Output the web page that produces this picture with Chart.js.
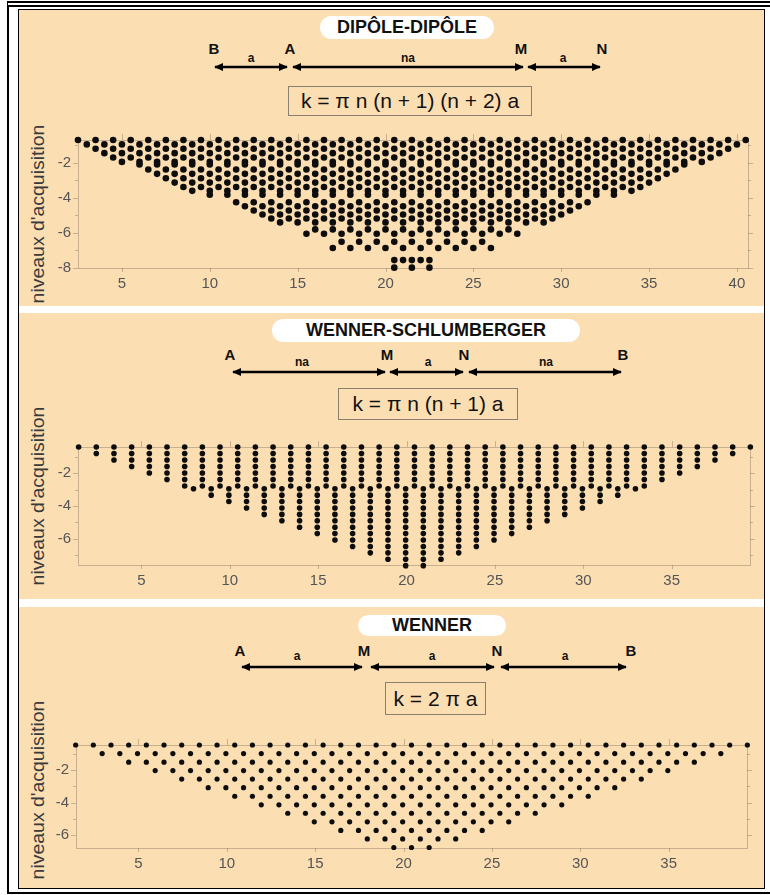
<!DOCTYPE html>
<html>
<head>
<meta charset="utf-8">
<title>Pseudo-sections</title>
<script src="https://cdn.jsdelivr.net/npm/chart.js@4.4.1/dist/chart.umd.min.js"></script>
<style>
  * { box-sizing: border-box; }
  body { margin: 0; width: 770px; height: 895px; position: relative; overflow: hidden; background: #fff;
         font-family: "Liberation Sans", Arial, sans-serif; color: #111; }
  .abs { position: absolute; }
  #outer { left: 7px; top: 1px; width: 800px; height: 893px; border-top: 6px double #000; border-left: 2px solid #000; border-bottom: 2px solid #000; }
  #inner { left: 18px; top: 9px; width: 747px; height: 880px; border: 1px solid #000; background: #fff; }
  .panel { left: 19px; width: 745px; background: #fcdeb3; }
  .pill { background: #fff; border-radius: 12px; text-align: center; font-weight: bold; font-size: 18px; color: #111; }
  .lbl { font-weight: bold; font-size: 15px; transform: translate(-50%, -50%); white-space: nowrap; }
  .sub { font-weight: bold; font-size: 12px; transform: translate(-50%, -50%); white-space: nowrap; }
  .formula { border: 1px solid #8a8070; text-align: center; font-size: 21px; color: #111; white-space: nowrap; }
  .ytitle { width: 200px; height: 20px; line-height: 20px; text-align: center; font-size: 18px; color: #3a3a3a;
            transform: rotate(-90deg) scaleX(1.08); white-space: nowrap; }
</style>
</head>
<body>
<div id="outer" class="abs"></div>
<div id="inner" class="abs"></div>
<div class="abs panel" style="top:10px;height:296px"></div>
<div class="abs panel" style="top:313px;height:286px"></div>
<div class="abs panel" style="top:607px;height:281px"></div>

<!-- panel 1 : dipole-dipole -->
<div class="abs pill" style="left:320px;top:16px;width:174px;height:23px;line-height:23px">DIPÔLE-DIPÔLE</div>
<div class="abs lbl" style="left:214px;top:48px">B</div>
<div class="abs lbl" style="left:290px;top:48px">A</div>
<div class="abs lbl" style="left:521px;top:48px">M</div>
<div class="abs lbl" style="left:602px;top:48px">N</div>
<div class="abs sub" style="left:251px;top:58px">a</div>
<div class="abs sub" style="left:408px;top:58px">na</div>
<div class="abs sub" style="left:563px;top:58px">a</div>
<div class="abs formula" style="left:288px;top:86px;width:244px;height:30px;line-height:28px">k = π n (n + 1) (n + 2) a</div>
<div class="abs ytitle" style="left:-62px;top:204px">niveaux d'acquisition</div>
<div class="abs" style="left:40px;top:124px;width:720px;height:176px"><canvas id="ddChart"></canvas></div>

<!-- panel 2 : wenner-schlumberger -->
<div class="abs pill" style="left:272px;top:319px;width:308px;height:23px;line-height:23px">WENNER-SCHLUMBERGER</div>
<div class="abs lbl" style="left:230px;top:354px">A</div>
<div class="abs lbl" style="left:387px;top:354px">M</div>
<div class="abs lbl" style="left:464px;top:354px">N</div>
<div class="abs lbl" style="left:623px;top:354px">B</div>
<div class="abs sub" style="left:302px;top:362px">na</div>
<div class="abs sub" style="left:428px;top:362px">a</div>
<div class="abs sub" style="left:546px;top:362px">na</div>
<div class="abs formula" style="left:338px;top:388px;width:180px;height:32px;line-height:30px">k = π n (n + 1) a</div>
<div class="abs ytitle" style="left:-62px;top:486px">niveaux d'acquisition</div>
<div class="abs" style="left:40px;top:431px;width:720px;height:167px"><canvas id="wsChart"></canvas></div>

<!-- panel 3 : wenner -->
<div class="abs pill" style="left:358px;top:615px;width:148px;height:21px;line-height:21px">WENNER</div>
<div class="abs lbl" style="left:240px;top:650px">A</div>
<div class="abs lbl" style="left:364px;top:650px">M</div>
<div class="abs lbl" style="left:497px;top:650px">N</div>
<div class="abs lbl" style="left:631px;top:650px">B</div>
<div class="abs sub" style="left:297px;top:656px">a</div>
<div class="abs sub" style="left:432px;top:656px">a</div>
<div class="abs sub" style="left:565px;top:656px">a</div>
<div class="abs formula" style="left:385px;top:682px;width:101px;height:33px;line-height:31px">k = 2 π a</div>
<div class="abs ytitle" style="left:-62px;top:780px">niveaux d'acquisition</div>
<div class="abs" style="left:38px;top:729px;width:720px;height:152px"><canvas id="wChart"></canvas></div>

<!-- electrode arrows -->
<svg class="abs" style="left:0;top:0" width="770" height="895">
  <defs>
    <marker id="ah" viewBox="0 0 10 10" refX="9" refY="5" markerWidth="3.6" markerHeight="3.2"
            preserveAspectRatio="none" orient="auto-start-reverse">
      <path d="M0,0 L10,5 L0,10 z" fill="#000"/>
    </marker>
  </defs>
  <g stroke="#000" stroke-width="2.5" marker-start="url(#ah)" marker-end="url(#ah)">
    <line x1="215" y1="67" x2="287" y2="67"/>
    <line x1="293" y1="67" x2="523" y2="67"/>
    <line x1="528" y1="67" x2="600" y2="67"/>
    <line x1="233" y1="372" x2="385" y2="372"/>
    <line x1="390" y1="372" x2="463" y2="372"/>
    <line x1="469" y1="372" x2="621" y2="372"/>
    <line x1="242" y1="667" x2="362" y2="667"/>
    <line x1="371" y1="667" x2="494" y2="667"/>
    <line x1="501" y1="667" x2="626" y2="667"/>
  </g>
</svg>

<script>
// ---------- Dipole-dipole : one row per acquisition level ----------
const ddXTicks = [5, 10, 15, 20, 25, 30, 35, 40];
const ddYTicks = [-2, -4, -6, -8];
const ddLevels = [-0.70, -0.95, -1.20, -1.45, -1.70, -1.95, -2.10, -2.38, -2.63, -2.88, -3.13, -3.38, -3.60,
                  -3.82, -4.25, -4.48, -4.72, -4.95, -5.18, -5.40, -5.80, -6.05, -6.50, -6.86, -7.55, -7.98];
const ddStart  = [2.5, 3, 3.5, 4, 4.5, 5, 6, 6.5, 7, 7.5, 8, 8.5, 9,
                  10, 11.5, 12, 12.5, 13, 13.5, 14, 16, 15.5, 17.5, 17, 20.5, 20.5];
const ddEnd    = [40.5, 40, 39.5, 39, 38.5, 38, 37, 36.5, 36, 35.5, 35, 34.5, 34,
                  33, 31.5, 31, 30.5, 30, 29.5, 29, 27, 27.5, 25.5, 26, 22.5, 22.5];
const ddStep   = [1, 1, 1, 1, 1, 1, 1, 1, 1, 1, 1, 1, 1,
                  1, 1, 1, 1, 1, 1, 1, 1, 1, 1, 1, 0.5, 1];

// ---------- Wenner-Schlumberger : columns of points ----------
const wsXTicks = [5, 10, 15, 20, 25, 30, 35];
const wsYTicks = [-2, -4, -6];
const wsTopLevels = [-0.41, -0.81, -1.20, -1.60, -1.99, -2.39, -2.78];
const wsTopX = [1.45, 2.45, 3.45, 4.45, 5.45, 6.45, 7.45, 8.45, 9.45, 10.45, 11.45, 12.45, 13.45,
                14.45, 15.45, 16.45, 17.45, 18.45, 19.45, 20.45, 21.45, 22.45, 23.45, 24.45, 25.45, 26.45,
                27.45, 28.45, 29.45, 30.45, 31.45, 32.45, 33.45, 34.45, 35.45, 36.45, 37.45, 38.45, 39.45];
const wsTopCount = [1, 2, 3, 4, 5, 6, 7, 7, 7, 7, 7, 7, 7,
                    7, 7, 7, 7, 7, 7, 7, 7, 7, 7, 7, 7, 7,
                    7, 7, 7, 7, 7, 7, 7, 6, 5, 4, 3, 2, 1];
const wsLowLevels = [-2.95, -3.34, -3.73, -4.12, -4.51, -4.90, -5.29, -5.68, -6.07, -6.46, -6.85, -7.24, -7.63];
const wsLowX = [7.95, 8.95, 9.95, 10.95, 11.95, 12.95, 13.95, 14.95, 15.95, 16.95, 17.95, 18.95, 19.95,
                20.95, 21.95, 22.95, 23.95, 24.95, 25.95, 26.95, 27.95, 28.95, 29.95, 30.95, 31.95, 32.95];
const wsLowCount = [1, 2, 3, 4, 5, 6, 7, 8, 9, 10, 11, 12, 13,
                    13, 12, 11, 10, 9, 8, 7, 6, 5, 4, 3, 2, 1];

// ---------- Wenner : one row per level ----------
const wXTicks = [5, 10, 15, 20, 25, 30, 35];
const wYTicks = [-2, -4, -6];
const wLevels = [-0.44, -0.97, -1.50, -2.02, -2.55, -3.08, -3.61, -4.14, -4.66, -5.19, -5.72, -6.25, -6.78];
const wStart  = [1.45, 2.95, 4.45, 5.95, 7.45, 8.95, 10.45, 11.95, 13.45, 14.95, 16.45, 17.95, 19.45];
const wEnd    = [39.45, 37.95, 36.45, 34.95, 33.45, 31.95, 30.45, 28.95, 27.45, 25.95, 24.45, 22.95, 21.45];
const wStep   = [1, 1, 1, 1, 1, 1, 1, 1, 1, 1, 1, 1, 1];

function rowPoints(levels, start, end, step) {
    const pts = [];
    levels.forEach((lv, i) => {
        for (let x = start[i]; x <= end[i] + 1e-6; x += step[i]) pts.push({ x: x, y: lv });
    });
    return pts;
}

function columnPoints(xs, counts, levels) {
    const pts = [];
    xs.forEach((x, i) => {
        for (let k = 0; k < counts[i]; k++) pts.push({ x: x, y: levels[k] });
    });
    return pts;
}

// light box around the plot with small outward ticks
const framePlugin = {
    id: 'frame',
    beforeDatasetsDraw(chart) {
        const { ctx, chartArea: a, scales: { x, y } } = chart;
        ctx.save();
        ctx.strokeStyle = 'rgba(120, 105, 90, 0.4)';
        ctx.lineWidth = 1;
        ctx.strokeRect(Math.round(a.left) + 0.5, Math.round(a.top) + 0.5,
                       Math.round(a.right - a.left), Math.round(a.bottom - a.top));
        ctx.beginPath();
        x.ticks.forEach(t => {
            const px = Math.round(x.getPixelForValue(t.value)) + 0.5;
            ctx.moveTo(px, a.top); ctx.lineTo(px, a.top - 6);
            ctx.moveTo(px, a.bottom); ctx.lineTo(px, a.bottom + 4);
        });
        for (let v = Math.ceil(y.min); v <= y.max; v++) {
            const py = Math.round(y.getPixelForValue(v)) + 0.5;
            const len = v % 2 === 0 ? 5 : 3;
            ctx.moveTo(a.left, py); ctx.lineTo(a.left - len, py);
            ctx.moveTo(a.right, py); ctx.lineTo(a.right + len, py);
        }
        ctx.stroke();
        ctx.restore();
    }
};

function buildChart(id, points, o) {
    const tickFont = { family: '"Liberation Sans", Arial, sans-serif', size: 15 };
    return new Chart(document.getElementById(id), {
        type: 'scatter',
        data: {
            datasets: [{
                data: points,
                backgroundColor: '#0d0d0d',
                borderWidth: 0,
                pointRadius: o.radius,
                pointHoverRadius: o.radius,
                clip: false
            }]
        },
        options: {
            responsive: true,
            maintainAspectRatio: false,
            animation: false,
            devicePixelRatio: 1,
            layout: { padding: { top: o.padTop, right: o.padRight, left: 0, bottom: 0 } },
            plugins: { legend: { display: false }, tooltip: { enabled: false } },
            scales: {
                x: {
                    type: 'linear', min: o.xMin, max: o.xMax,
                    grid: { display: false, drawTicks: false }, border: { display: false },
                    afterBuildTicks: s => { s.ticks = o.xTicks.map(v => ({ value: v })); },
                    afterFit: s => { s.height = o.xAxisH; },
                    ticks: { color: '#555', padding: 7, maxRotation: 0, autoSkip: false, font: tickFont }
                },
                y: {
                    type: 'linear', min: o.yMin, max: o.yMax,
                    grid: { display: false, drawTicks: false }, border: { display: false },
                    afterBuildTicks: s => { s.ticks = o.yTicks.map(v => ({ value: v })); },
                    afterFit: s => { s.width = o.yAxisW; },
                    ticks: { color: '#555', padding: 7, autoSkip: false, font: tickFont }
                }
            }
        },
        plugins: [framePlugin]
    });
}

buildChart('ddChart', rowPoints(ddLevels, ddStart, ddEnd, ddStep), {
    radius: 3.3, xMin: 2.5, xMax: 40.63, yMin: -8.0, yMax: -0.70,
    xTicks: ddXTicks, yTicks: ddYTicks, padTop: 9, padRight: 12, xAxisH: 32, yAxisW: 38
});

buildChart('wsChart', columnPoints(wsTopX, wsTopCount, wsTopLevels).concat(columnPoints(wsLowX, wsLowCount, wsLowLevels)), {
    radius: 2.8, xMin: 1.415, xMax: 39.43, yMin: -7.59, yMax: -0.41,
    xTicks: wsXTicks, yTicks: wsYTicks, padTop: 9, padRight: 10, xAxisH: 33, yAxisW: 38
});

buildChart('wChart', rowPoints(wLevels, wStart, wEnd, wStep), {
    radius: 2.6, xMin: 1.47, xMax: 39.43, yMin: -6.81, yMax: -0.44,
    xTicks: wXTicks, yTicks: wYTicks, padTop: 9, padRight: 11, xAxisH: 33, yAxisW: 38
});
</script>
</body>
</html>
